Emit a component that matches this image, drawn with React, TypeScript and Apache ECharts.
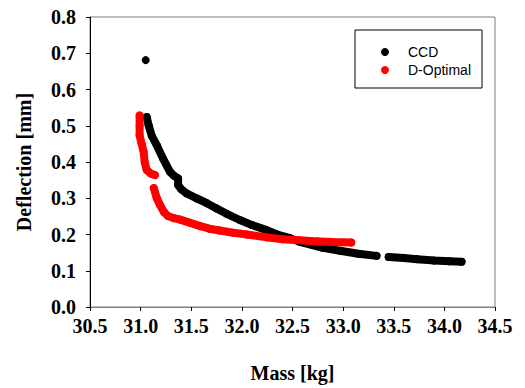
import React, { useEffect, useRef } from "react";
import * as echarts from "echarts";

// CCD series, split into segments where the reference shows gaps
const ccdSegments: number[][][] = [
  [[31.05, 0.681]],
  [
    [31.06, 0.524], [31.08, 0.5], [31.11, 0.472], [31.16, 0.446], [31.22, 0.41],
    [31.29, 0.373], [31.33, 0.362], [31.37, 0.355], [31.37, 0.337], [31.4, 0.325],
    [31.45, 0.314], [31.55, 0.3], [31.65, 0.287], [31.75, 0.272], [31.85, 0.257],
    [31.98, 0.24], [32.1, 0.226], [32.245, 0.212], [32.35, 0.2], [32.475, 0.19],
    [32.57, 0.18], [32.67, 0.173], [32.8, 0.163], [32.97, 0.155], [33.15, 0.147],
    [33.33, 0.141],
  ],
  [
    [33.45, 0.138], [33.6, 0.135], [33.73, 0.132], [33.9, 0.128], [34.05, 0.126],
    [34.17, 0.125],
  ],
];

// D-Optimal series
const dOptSegments: number[][][] = [
  [
    [30.99, 0.528], [30.99, 0.5], [30.99, 0.473], [31.01, 0.45], [31.03, 0.428],
    [31.04, 0.4], [31.06, 0.378], [31.1, 0.368], [31.14, 0.364],
  ],
  [
    [31.13, 0.328], [31.16, 0.3], [31.19, 0.282], [31.23, 0.262], [31.27, 0.251],
    [31.33, 0.245], [31.39, 0.241], [31.49, 0.232], [31.59, 0.223], [31.68, 0.216],
    [31.78, 0.211], [31.915, 0.205], [32.05, 0.2], [32.245, 0.192], [32.4, 0.187],
    [32.57, 0.184], [32.75, 0.181], [32.9, 0.179], [33.08, 0.178],
  ],
];

const seriesNames = ["CCD", "D-Optimal"];
const seriesColors = ["#000000", "#ff0000"];

const serif = '"Liberation Serif", "Times New Roman", serif';

export default function App() {
  const ref = useRef<HTMLDivElement>(null);
  useEffect(() => {
    if (!ref.current) return;
    const chart = echarts.init(ref.current, undefined, { renderer: "svg" });
    const mk = (segs: number[][][], idx: number) =>
      segs.map((seg) => ({
        name: seriesNames[idx],
        type: "line" as const,
        data: seg,
        showSymbol: true,
        symbol: "circle",
        symbolSize: 8,
        itemStyle: { color: seriesColors[idx] },
        lineStyle: { color: seriesColors[idx], width: 8, cap: "round", join: "round" },
        z: idx === 0 ? 2 : 3,
      }));
    chart.setOption({
      animation: false,
      backgroundColor: "#ffffff",
      grid: {
        left: 90,
        right: 30,
        top: 17,
        bottom: 78,
        show: true,
        borderColor: "#808080",
        borderWidth: 1,
      },
      legend: {
        data: seriesNames.map((n) => ({ name: n, icon: "circle" })),
        orient: "vertical",
        left: 355,
        top: 30,
        itemWidth: 8,
        itemHeight: 8,
        itemGap: 4,
        padding: [15, 11, 11, 26],
        borderColor: "#000000",
        borderWidth: 1,
        backgroundColor: "#ffffff",
        textStyle: {
          fontFamily: '"Liberation Sans", Arial, sans-serif',
          fontSize: 14,
          lineHeight: 14,
          color: "#000000",
          padding: [0, 0, 0, 14],
        },
      },
      xAxis: {
        type: "value",
        min: 30.5,
        max: 34.5,
        interval: 0.5,
        name: "Mass [kg]",
        nameLocation: "middle",
        nameGap: 56,
        nameTextStyle: { fontFamily: serif, fontWeight: "bold", fontSize: 20, color: "#000" },
        axisLine: { show: true, lineStyle: { color: "#808080", width: 1 } },
        axisTick: { show: true, length: 4, lineStyle: { color: "#000" } },
        splitLine: { show: false },
        axisLabel: {
          fontFamily: serif,
          fontWeight: "bold",
          fontSize: 20,
          color: "#000",
          margin: 9,
          formatter: (v: number) => v.toFixed(1),
        },
      },
      yAxis: {
        type: "value",
        min: 0,
        max: 0.8,
        interval: 0.1,
        name: "Deflection [mm]",
        nameLocation: "middle",
        nameGap: 56,
        nameTextStyle: { fontFamily: serif, fontWeight: "bold", fontSize: 20, color: "#000" },
        axisLine: { show: true, lineStyle: { color: "#000", width: 1 } },
        axisTick: { show: true, length: 4, lineStyle: { color: "#000" } },
        splitLine: { show: false },
        axisLabel: {
          fontFamily: serif,
          fontWeight: "bold",
          fontSize: 20,
          color: "#000",
          margin: 14,
          formatter: (v: number) => v.toFixed(1),
        },
      },
      series: [...mk(ccdSegments, 0), ...mk(dOptSegments, 1)],
    });
    return () => chart.dispose();
  }, []);
  return (
    <div
      ref={ref}
      style={{ position: "fixed", left: 0, top: 0, width: 525, height: 388 }}
    />
  );
}
